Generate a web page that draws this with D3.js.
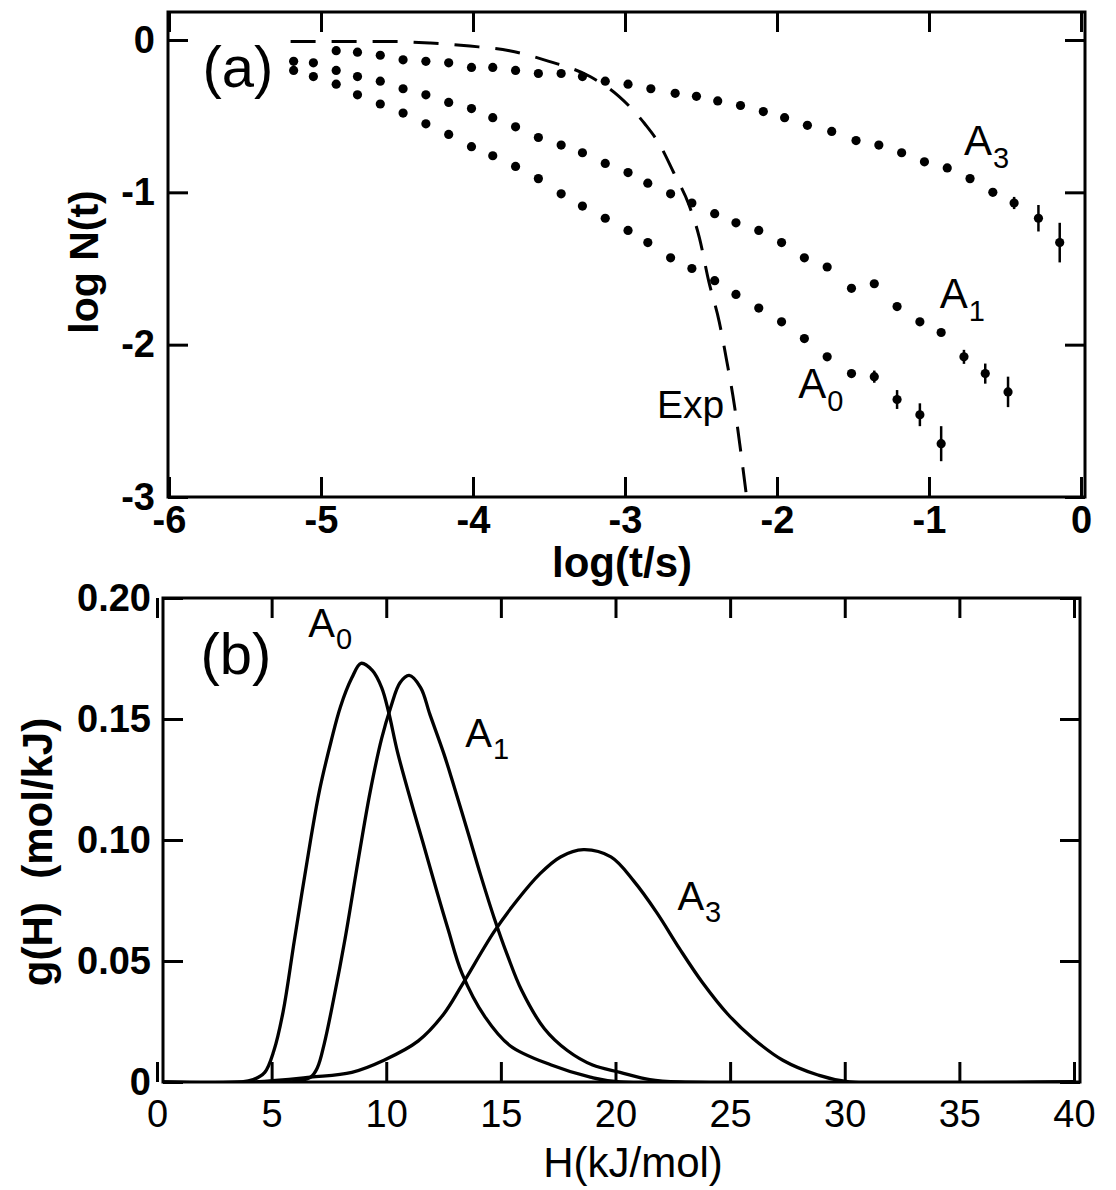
<!DOCTYPE html>
<html>
<head>
<meta charset="utf-8">
<script src="https://cdn.jsdelivr.net/npm/d3@7"></script>
<style>
    body { margin: 0; background: #fff; }
    svg { display: block; font-family: 'Liberation Sans', Arial, sans-serif; }
</style>
</head>
<body>
<div id="chart"></div>
<script>
// ---- panel (a): log N(t) against log(t/s) ----
// A0 and A1 share one time grid, A3 is sampled a little later
const logT01 = [-5.18, -5.05, -4.90, -4.76, -4.61, -4.46, -4.31, -4.16, -4.01, -3.87, -3.72,
    -3.57, -3.42, -3.28, -3.13, -2.98, -2.85, -2.70, -2.56, -2.41, -2.27, -2.12, -1.97,
    -1.82, -1.67, -1.51, -1.36, -1.21, -1.06, -0.92, -0.77, -0.63, -0.48]
const logNA0 = [-0.20, -0.24, -0.29, -0.36, -0.42, -0.48, -0.55, -0.62, -0.70, -0.76, -0.83,
    -0.91, -1.01, -1.09, -1.17, -1.25, -1.33, -1.43, -1.50, -1.58, -1.67, -1.76, -1.85,
    -1.96, -2.08, -2.19, -2.21, -2.36, -2.46, -2.65]
const logNA1 = [-0.14, -0.15, -0.20, -0.24, -0.27, -0.32, -0.36, -0.41, -0.45, -0.51, -0.57,
    -0.64, -0.69, -0.74, -0.81, -0.87, -0.94, -1.01, -1.07, -1.14, -1.20, -1.25, -1.33,
    -1.43, -1.49, -1.63, -1.60, -1.75, -1.85, -1.92, -2.08, -2.19, -2.31]
const logT3 = [-4.90, -4.76, -4.61, -4.46, -4.31, -4.16, -4.01, -3.87, -3.72, -3.57, -3.42,
    -3.28, -3.13, -2.98, -2.83, -2.67, -2.53, -2.39, -2.24, -2.09, -1.95, -1.80, -1.64,
    -1.48, -1.33, -1.18, -1.03, -0.88, -0.73, -0.58, -0.44, -0.28, -0.14]
const logNA3 = [-0.07, -0.08, -0.10, -0.13, -0.14, -0.15, -0.18, -0.18, -0.20, -0.22, -0.22,
    -0.24, -0.27, -0.29, -0.32, -0.35, -0.37, -0.40, -0.43, -0.47, -0.51, -0.56, -0.60,
    -0.66, -0.69, -0.74, -0.80, -0.84, -0.91, -1.00, -1.07, -1.17, -1.33]
// error bar half lengths on the last points of each series
const errA0 = [0.04, 0.062, 0.075, 0.115]
const errA1 = [0.046, 0.066, 0.10]
const errA3 = [0.04, 0.087, 0.13]
// single exponential decay (dashed)
const expT = [-5.20, -4.87, -4.54, -4.28, -4.02, -3.76, -3.50, -3.23, -3.04, -2.87, -2.77,
    -2.68, -2.58, -2.51, -2.45, -2.38, -2.33, -2.28, -2.24, -2.20]
const expN = [-0.01, -0.01, -0.01, -0.02, -0.04, -0.07, -0.14, -0.24, -0.37, -0.55, -0.69,
    -0.87, -1.08, -1.30, -1.58, -1.85, -2.11, -2.40, -2.69, -3.00]
const ticksA_x = [-6, -5, -4, -3, -2, -1, 0]
const ticksA_y = [-3, -2, -1, 0]

// ---- panel (b): g(H) against H ----
const hA0 = [0, 3.7, 4.2, 4.7, 5.1, 5.5, 6.0, 6.7, 7.1, 7.6, 8.0, 8.5, 8.9, 9.4, 9.8, 10.1,
    10.5, 11.2, 11.6, 12.2, 12.7, 13.3, 14.3, 15.4, 17.2, 18.9, 20.2, 40]
const gA0 = [0, 0, 0.001, 0.004, 0.013, 0.029, 0.059, 0.100, 0.121, 0.141, 0.155, 0.167,
    0.173, 0.170, 0.163, 0.153, 0.136, 0.112, 0.099, 0.079, 0.063, 0.045, 0.027, 0.015,
    0.007, 0.002, 0, 0]
const hA1 = [0, 5.8, 6.7, 7.0, 7.3, 7.7, 8.2, 8.8, 9.3, 9.8, 10.2, 10.6, 11.0, 11.5, 11.9,
    12.5, 12.9, 13.6, 14.1, 14.7, 15.3, 15.9, 16.9, 17.9, 19.0, 20.2, 21.5, 22.8, 40]
const gA1 = [0, 0, 0.002, 0.006, 0.016, 0.034, 0.059, 0.093, 0.120, 0.142, 0.155, 0.165,
    0.168, 0.163, 0.152, 0.136, 0.124, 0.102, 0.086, 0.068, 0.052, 0.038, 0.022, 0.013,
    0.007, 0.004, 0.001, 0, 0]
const hA3 = [0, 4.1, 6.7, 8.5, 9.9, 11.4, 12.5, 13.3, 14.7, 15.7, 16.7, 17.6, 18.6, 19.8,
    20.8, 21.8, 22.8, 23.8, 24.9, 26.0, 27.3, 28.8, 30.2, 40]
const gA3 = [0, 0, 0.002, 0.004, 0.009, 0.017, 0.028, 0.040, 0.062, 0.075, 0.086, 0.093,
    0.096, 0.093, 0.083, 0.070, 0.055, 0.041, 0.028, 0.018, 0.009, 0.003, 0, 0]
const ticksB_x = [0, 5, 10, 15, 20, 25, 30, 35, 40]
const ticksB_y = [0, 0.05, 0.10, 0.15, 0.20]

const width = 1116
const height = 1190

let svg = d3.select('#chart')
    .append('svg')
    .attr('width', width)
    .attr('height', height)

svg.append('rect')
    .attr('width', width)
    .attr('height', height)
    .attr('fill', '#fff')

let defs = svg.append('defs')

function zip(xs, ys) {
    return ys.map((y, i) => ({ x: xs[i], y: y }))
}

// label with a subscript
function subLabel(g, x, y, main, sub, size, subSize) {
    let t = g.append('text')
        .attr('x', x)
        .attr('y', y)
        .attr('font-size', size)
        .text(main)
    t.append('tspan')
        .attr('dy', size * 0.3)
        .attr('dx', 1)
        .attr('font-size', subSize)
        .text(sub)
}

// frame + inward ticks on all four sides
function frame(g, box, x, y, xTicks, yTicks, fmtX, fmtY, opts) {
    g.append('rect')
        .attr('x', box.left)
        .attr('y', box.top)
        .attr('width', box.right - box.left)
        .attr('height', box.bottom - box.top)
        .attr('fill', 'none')
        .attr('stroke', '#000')
        .attr('stroke-width', 3)

    let axes = [
        ['bottom', d3.axisBottom(x).tickValues(xTicks).tickFormat(fmtX), `translate(0,${box.bottom})`, opts.xPad],
        ['top', d3.axisTop(x).tickValues(xTicks).tickFormat(''), `translate(0,${box.top})`, 0],
        ['left', d3.axisLeft(y).tickValues(yTicks).tickFormat(fmtY), `translate(${box.left},0)`, opts.yPad],
        ['right', d3.axisRight(y).tickValues(yTicks).tickFormat(''), `translate(${box.right},0)`, 0]
    ]
    let groups = {}
    axes.forEach(([name, ax, tr, pad]) => {
        let a = g.append('g')
            .attr('transform', tr)
            .call(ax.tickSizeInner(-opts.tick).tickSizeOuter(0).tickPadding(pad))
        a.select('.domain').remove()
        a.selectAll('line').attr('stroke-width', 3)
        a.selectAll('text')
            .attr('fill', '#000')
            .attr('font-family', "'Liberation Sans', Arial, sans-serif")
            .attr('font-size', opts.fontSize)
        groups[name] = a
    })
    return groups
}

// ================= panel (a) =================
let boxA = { left: 168, right: 1085, top: 12, bottom: 497 }
let xA = d3.scaleLinear().domain([-6, 0]).range([169, 1081])
let yA = d3.scaleLinear().domain([-3, 0]).range([497, 40])

defs.append('clipPath')
    .attr('id', 'clip-a')
    .append('rect')
    .attr('x', boxA.left)
    .attr('y', boxA.top)
    .attr('width', boxA.right - boxA.left)
    .attr('height', boxA.bottom - boxA.top)

let gA = svg.append('g')

let axA = frame(gA, boxA, xA, yA, ticksA_x, ticksA_y, d => String(d), d => String(d),
    { tick: 20, xPad: 9, yPad: 13, fontSize: 38 })
axA.bottom.selectAll('text').attr('font-weight', 'bold')
axA.left.selectAll('text').attr('font-weight', 'bold')

let plotA = gA.append('g').attr('clip-path', 'url(#clip-a)')

plotA.append('path')
    .datum(zip(expT, expN))
    .attr('fill', 'none')
    .attr('stroke', '#000')
    .attr('stroke-width', 3)
    .attr('stroke-dasharray', '25,16')
    .attr('d', d3.line().x(d => xA(d.x)).y(d => yA(d.y)).curve(d3.curveMonotoneX))

let seriesA = [
    { t: logT01, n: logNA0, err: errA0 },
    { t: logT01, n: logNA1, err: errA1 },
    { t: logT3, n: logNA3, err: errA3 }
]

seriesA.forEach(s => {
    let pts = zip(s.t, s.n)
    let first = pts.length - s.err.length
    pts.forEach((p, i) => { p.e = i >= first ? s.err[i - first] : 0 })

    plotA.append('g')
        .selectAll('line')
        .data(pts.filter(p => p.e > 0))
        .enter()
        .append('line')
        .attr('x1', d => xA(d.x))
        .attr('x2', d => xA(d.x))
        .attr('y1', d => yA(d.y - d.e))
        .attr('y2', d => yA(d.y + d.e))
        .attr('stroke', '#000')
        .attr('stroke-width', 2.5)

    plotA.append('g')
        .selectAll('circle')
        .data(pts)
        .enter()
        .append('circle')
        .attr('cx', d => xA(d.x))
        .attr('cy', d => yA(d.y))
        .attr('r', 4.6)
        .attr('fill', '#000')
})

gA.append('text')
    .attr('x', xA(-5.78))
    .attr('y', yA(-0.31))
    .attr('font-size', 58)
    .text('(a)')

subLabel(gA, xA(-0.77), yA(-0.755), 'A', '3', 42, 29)
subLabel(gA, xA(-0.93), yA(-1.76), 'A', '1', 42, 29)
subLabel(gA, xA(-1.86), yA(-2.35), 'A', '0', 42, 29)

gA.append('text')
    .attr('x', xA(-2.79))
    .attr('y', yA(-2.48))
    .attr('font-size', 39)
    .text('Exp')

gA.append('text')
    .attr('x', 622)
    .attr('y', 577)
    .attr('text-anchor', 'middle')
    .attr('font-size', 42)
    .attr('font-weight', 'bold')
    .text('log(t/s)')

gA.append('text')
    .attr('transform', 'translate(98,262) rotate(-90)')
    .attr('text-anchor', 'middle')
    .attr('font-size', 41)
    .attr('font-weight', 'bold')
    .text('log N(t)')

// ================= panel (b) =================
let boxB = { left: 163, right: 1080, top: 598, bottom: 1082 }
let xB = d3.scaleLinear().domain([0, 40]).range([157, 1074])
let yB = d3.scaleLinear().domain([0, 0.2]).range([1082, 598])

defs.append('clipPath')
    .attr('id', 'clip-b')
    .append('rect')
    .attr('x', boxB.left)
    .attr('y', boxB.top)
    .attr('width', boxB.right - boxB.left)
    .attr('height', boxB.bottom - boxB.top)

let gB = svg.append('g')

let axB = frame(gB, boxB, xB, yB, ticksB_x, ticksB_y, d => String(d),
    d => d === 0 ? '0' : d.toFixed(2), { tick: 20, xPad: 18, yPad: 12, fontSize: 38 })
// y tick labels look heavier than the x ones
axB.left.selectAll('text').attr('font-weight', 'bold')

let plotB = gB.append('g').attr('clip-path', 'url(#clip-b)')
let lineB = d3.line()
    .x(d => xB(d.x))
    .y(d => yB(d.y))
    .curve(d3.curveCatmullRom.alpha(0.5))

;[[hA0, gA0], [hA1, gA1], [hA3, gA3]].forEach(([h, g]) => {
    plotB.append('path')
        .datum(zip(h, g))
        .attr('fill', 'none')
        .attr('stroke', '#000')
        .attr('stroke-width', 3.3)
        .attr('d', lineB)
})

gB.append('text')
    .attr('x', xB(1.9))
    .attr('y', yB(0.1686))
    .attr('font-size', 58)
    .text('(b)')

subLabel(gB, xB(6.6), yB(0.184), 'A', '0', 40, 29)
subLabel(gB, xB(13.45), yB(0.1384), 'A', '1', 40, 29)
subLabel(gB, xB(22.7), yB(0.0711), 'A', '3', 40, 29)

gB.append('text')
    .attr('x', 633)
    .attr('y', 1177)
    .attr('text-anchor', 'middle')
    .attr('font-size', 42)
    .text('H(kJ/mol)')

gB.append('text')
    .attr('transform', 'translate(52,852) rotate(-90)')
    .attr('text-anchor', 'middle')
    .attr('font-size', 42)
    .attr('font-weight', 'bold')
    .attr('xml:space', 'preserve')
    .style('white-space', 'pre')
    .text('g(H)  (mol/kJ)')
</script>
</body>
</html>
